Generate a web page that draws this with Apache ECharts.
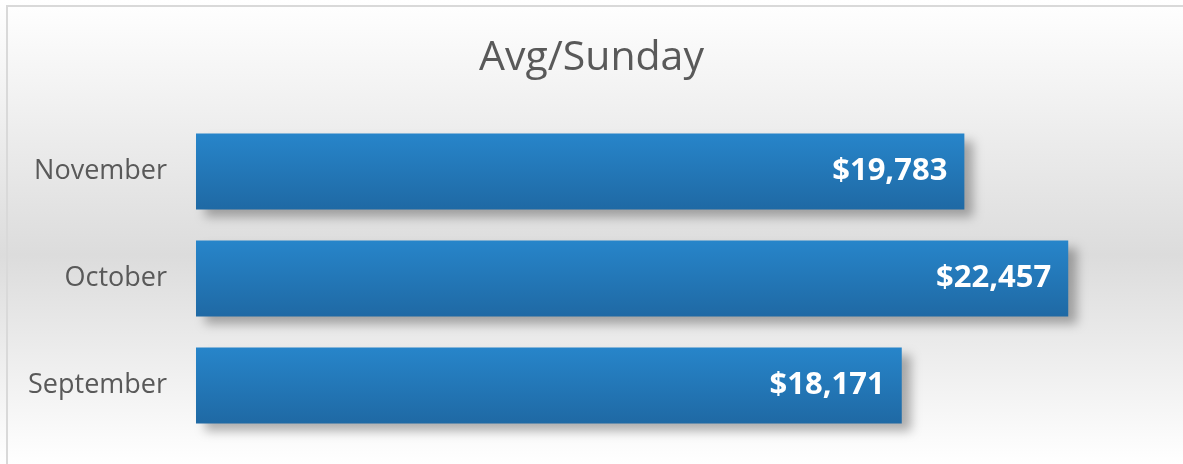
<!DOCTYPE html>
<html>
<head>
    <meta charset="utf-8">
    <title>Avg/Sunday</title>
    <style>
        html, body { margin: 0; padding: 0; }
        #chart { width: 1183px; height: 464px; }
    </style>
    <script src="https://cdn.jsdelivr.net/npm/echarts@6/dist/echarts.min.js"></script>
</head>
<body>
<div id="chart"></div>
<script>
    // data, bottom to top
    const months = ['September', 'October', 'November'];
    const avgSunday = [18171, 22457, 19783];

    const chart = echarts.init(document.getElementById('chart'));
    chart.setOption({
        animation: false,
        backgroundColor: {
            type: 'linear', x: 0, y: 0, x2: 0, y2: 1,
            colorStops: [
                {offset: 0, color: '#ffffff'},
                {offset: 0.55, color: '#dcdcdc'},
                {offset: 1, color: '#ffffff'}
            ]
        },
        graphic: [{
            type: 'rect',
            shape: {x: 7, y: 6, width: 1190, height: 470},
            style: {fill: 'none', stroke: '#d9d9d9', lineWidth: 2},
            silent: true
        }],
        title: {
            text: 'Avg/Sunday',
            left: 'center',
            top: 33,
            textStyle: {
                fontFamily: 'Open Sans',
                fontSize: 41,
                fontWeight: 'normal',
                color: '#595959'
            }
        },
        grid: {left: 196, right: 16, top: 118, bottom: 25, containLabel: false},
        xAxis: {
            type: 'value',
            min: 0,
            max: 25000,
            show: false
        },
        yAxis: {
            type: 'category',
            data: months,
            axisLine: {show: false},
            axisTick: {show: false},
            axisLabel: {
                margin: 29,
                fontFamily: 'Open Sans',
                fontSize: 27,
                color: '#595959',
                padding: [4, 0, 0, 0]
            }
        },
        series: [{
            type: 'bar',
            data: avgSunday,
            barWidth: 76,
            itemStyle: {
                color: {
                    type: 'linear', x: 0, y: 0, x2: 0, y2: 1,
                    colorStops: [
                        {offset: 0, color: '#2785ca'},
                        {offset: 1, color: '#1f69a4'}
                    ]
                },
                shadowColor: 'rgba(0,0,0,0.3)',
                shadowBlur: 10,
                shadowOffsetX: 9,
                shadowOffsetY: 7
            },
            label: {
                show: true,
                position: 'insideRight',
                distance: 17,
                fontFamily: 'Open Sans',
                fontSize: 31,
                fontWeight: 'bold',
                color: '#ffffff',
                padding: [3, 0, 0, 0],
                formatter: function (p) {
                    return '$' + p.value.toLocaleString('en-US');
                }
            }
        }]
    });
</script>
</body>
</html>
